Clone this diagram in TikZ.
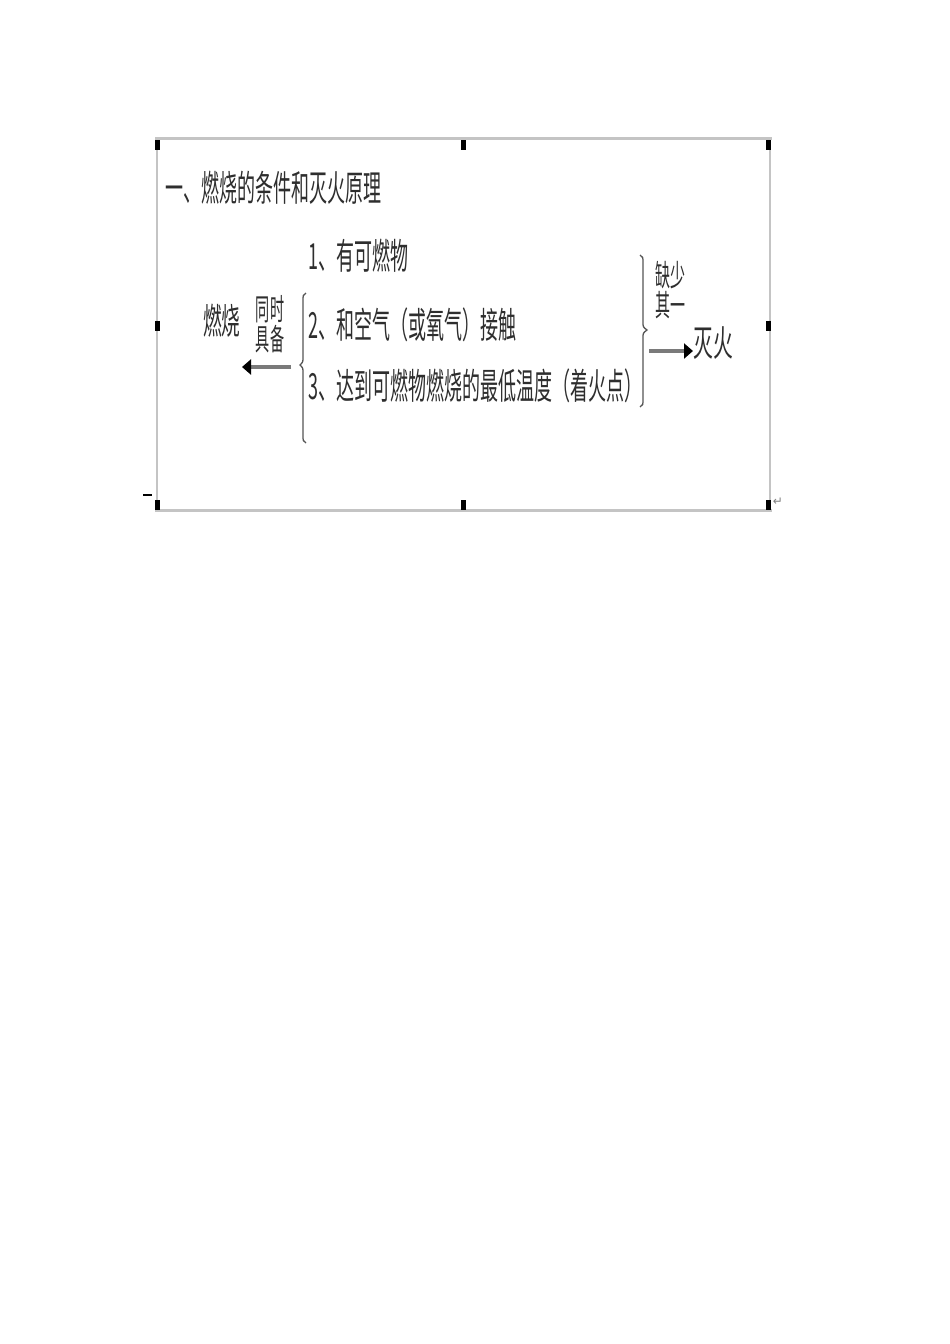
\documentclass[tikz,border=0pt]{standalone}
\usepackage{fontspec}
\usepackage{graphicx}
\setmainfont{Noto Sans CJK SC}
\newfontfamily\dejavu{DejaVu Sans}
\usetikzlibrary{arrows.meta}
\definecolor{ink}{HTML}{2E2E2E}
\definecolor{framegray}{HTML}{C4C4C4}
\definecolor{bracegray}{HTML}{555555}
\definecolor{shaftgray}{HTML}{7A7A7A}
\newcommand{\sqz}[2]{\scalebox{#1}[1]{#2}}
\tikzset{
  txt/.style={inner sep=0pt, text=ink, font=\fontsize{36}{38}\selectfont},
  stack/.style={inner sep=0pt, text=ink, align=center, font=\fontsize{30}{30}\selectfont},
  frameline/.style={draw=framegray, line width=3pt},
  sideline/.style={draw=framegray, line width=1.5pt},
  handle/.style={fill=black, draw=none, minimum width=5pt, minimum height=10pt, inner sep=0pt},
  bracestyle/.style={draw=bracegray, line width=1.3pt},
  arr/.style={draw=shaftgray, line width=4.5pt, -{Triangle[length=9pt,width=15pt,color=black]}}
}
\begin{document}
\begin{tikzpicture}[x=1pt,y=-1pt]
\useasboundingbox (0,0) rectangle (950,1344);
\fill[white] (0,0) rectangle (950,1344);
% frame
\coordinate (tl) at (157,138);
\coordinate (tr) at (770,138);
\coordinate (bl) at (157,510);
\coordinate (br) at (770,510);
\draw[frameline] (155,138) -- (772,138);
\draw[frameline] (155,510) -- (772,510);
\draw[sideline] (tl) -- (bl);
\draw[sideline] (tr) -- (br);
% handles
\node[handle] (h1) at (157,145) {};
\node[handle] (h2) at (463,145) {};
\node[handle] (h3) at (768,145) {};
\node[handle] (h4) at (157,326) {};
\node[handle] (h5) at (768,326) {};
\node[handle] (h6) at (157,505) {};
\node[handle] (h7) at (463,505) {};
\node[handle] (h8) at (768,505) {};
\draw[black, line width=1.5pt] (143,495) -- (152,495);
\node[inner sep=0pt, text=gray, font=\dejavu\fontsize{12}{12}\selectfont] (ret) at (778,502) {↵};
% title
\node[txt, anchor=west] (title) at (165,188) {\sqz{0.5}{一、燃烧的条件和灭火原理}};
% items
\node[txt, anchor=west] (i1) at (308,256) {\sqz{0.5}{1、有可燃物}};
\node[txt, anchor=west] (i2) at (308,325) {\sqz{0.5}{2、和空气（或氧气）接触}};
\node[txt, anchor=west] (i3) at (308,386) {\sqz{0.5}{3、达到可燃物燃烧的最低温度（着火点）}};
% left side
\node[txt, anchor=west] (burn) at (203,321) {\sqz{0.52}{燃烧}};
\node[stack] (both) at (270,324) {\sqz{0.47}{同时}\\\sqz{0.47}{具备}};
% right side
\node[stack] (lack) at (670,290) {\sqz{0.5}{缺少}\\\sqz{0.5}{其一}};
\node[txt, anchor=west] (fire) at (693,343) {\sqz{0.55}{灭火}};
% braces
\draw[bracestyle] (306,293) .. controls (303,295) .. (303,301) -- (303,357)
  .. controls (303,362) .. (300,365) .. controls (303,368) .. (303,373) -- (303,435)
  .. controls (303,441) .. (306,443);
\draw[bracestyle] (640,255) .. controls (643,257) .. (643,263) -- (643,322)
  .. controls (643,327) .. (647,330) .. controls (643,333) .. (643,338) -- (643,399)
  .. controls (643,405) .. (640,407);
% arrows
\coordinate (la) at (291,367);
\coordinate (lb) at (242,367);
\draw[arr] (la) -- (lb);
\coordinate (ra) at (649,351);
\draw[arr] (ra) -- (fire.west |- ra);
\end{tikzpicture}
\end{document}
